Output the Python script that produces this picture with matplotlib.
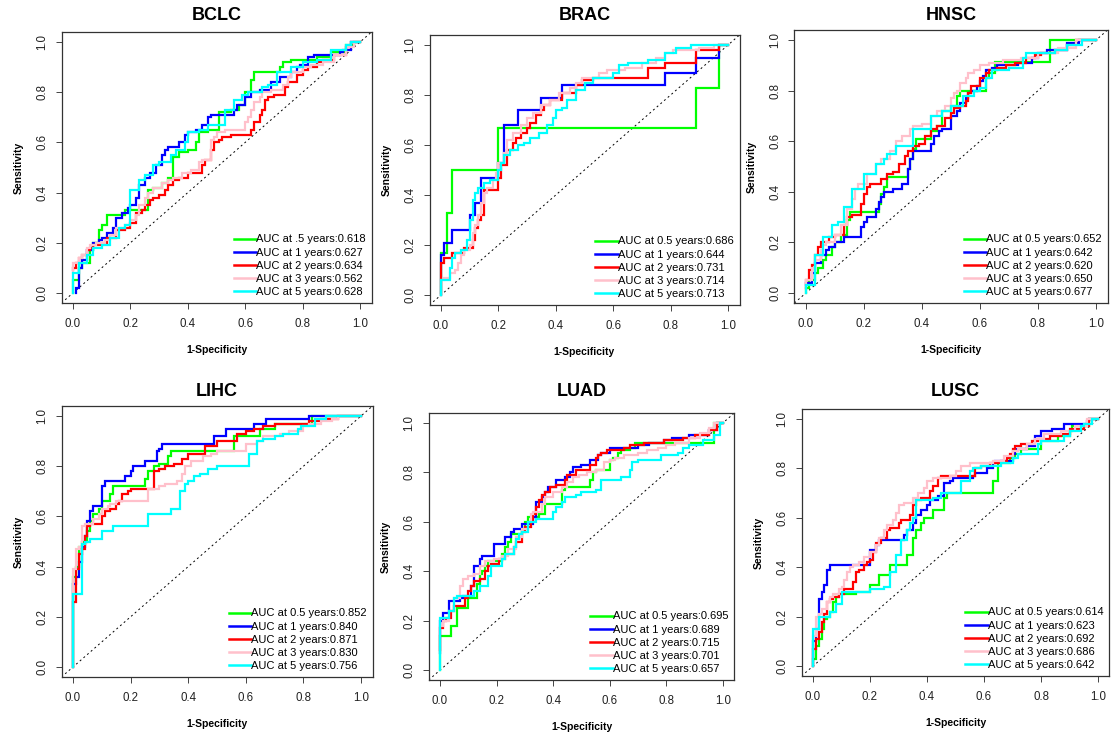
import matplotlib
matplotlib.use("Agg")
import matplotlib.pyplot as plt

plt.rcParams['font.family'] = ['Liberation Sans', 'DejaVu Sans']

# ---------------- data ----------------
panel_titles = ["BCLC", "BRAC", "HNSC", "LIHC", "LUAD", "LUSC"]
series_colors = ["#00FF00", "#0000FF", "#FF0000", "#FFC0CB", "#00FFFF"]
year_labels = [["AUC at .5 years", "AUC at 1 years", "AUC at 2 years", "AUC at 3 years", "AUC at 5 years"]] + \
              [["AUC at 0.5 years", "AUC at 1 years", "AUC at 2 years", "AUC at 3 years", "AUC at 5 years"]] * 5
auc_values = [
    [0.618, 0.627, 0.634, 0.562, 0.628],
    [0.686, 0.644, 0.731, 0.714, 0.713],
    [0.652, 0.642, 0.620, 0.650, 0.677],
    [0.852, 0.840, 0.871, 0.830, 0.756],
    [0.695, 0.689, 0.715, 0.701, 0.657],
    [0.614, 0.623, 0.692, 0.686, 0.642],
]
tick_values = [0.0, 0.2, 0.4, 0.6, 0.8, 1.0]
tick_labels = ["0.0", "0.2", "0.4", "0.6", "0.8", "1.0"]

# ROC curves: (FPR, TPR) corner points, per panel, per series (0.5, 1, 2, 3, 5 years)
bclc_fpr_05 = [0, 0.02, 0.03, 0.06, 0.07, 0.09, 0.10, 0.12, 0.14, 0.18, 0.20, 0.26, 0.26, 0.28, 0.31, 0.33, 0.35, 0.35, 0.37, 0.40, 0.43, 0.44, 0.47, 0.51, 0.51, 0.55, 0.58, 0.60, 0.62, 0.63, 0.64, 0.72, 0.73, 0.76, 0.85, 0.90, 0.95, 0.98, 1]
bclc_tpr_05 = [0, 0.05, 0.10, 0.12, 0.17, 0.20, 0.25, 0.27, 0.31, 0.31, 0.33, 0.33, 0.38, 0.41, 0.42, 0.44, 0.46, 0.51, 0.54, 0.56, 0.57, 0.60, 0.64, 0.65, 0.70, 0.72, 0.73, 0.75, 0.80, 0.85, 0.88, 0.88, 0.90, 0.92, 0.93, 0.94, 0.96, 0.99, 1]
bclc_fpr_1 = [0.01, 0.02, 0.03, 0.05, 0.07, 0.09, 0.10, 0.12, 0.14, 0.15, 0.17, 0.19, 0.20, 0.22, 0.23, 0.25, 0.27, 0.29, 0.31, 0.32, 0.33, 0.37, 0.39, 0.40, 0.43, 0.45, 0.47, 0.48, 0.50, 0.56, 0.57, 0.60, 0.62, 0.65, 0.69, 0.72, 0.76, 0.78, 0.79, 0.82, 0.84, 0.85, 0.93, 0.94, 0.97, 1]
bclc_tpr_1 = [0.0, 0.02, 0.10, 0.13, 0.17, 0.20, 0.21, 0.22, 0.24, 0.26, 0.30, 0.32, 0.34, 0.35, 0.38, 0.43, 0.46, 0.48, 0.51, 0.55, 0.57, 0.58, 0.60, 0.63, 0.64, 0.65, 0.67, 0.70, 0.71, 0.71, 0.73, 0.75, 0.78, 0.80, 0.81, 0.84, 0.86, 0.88, 0.90, 0.91, 0.94, 0.95, 0.95, 0.96, 0.97, 1]
bclc_fpr_2 = [0, 0.01, 0.02, 0.03, 0.05, 0.06, 0.07, 0.10, 0.12, 0.15, 0.18, 0.20, 0.22, 0.24, 0.25, 0.27, 0.28, 0.30, 0.32, 0.33, 0.35, 0.37, 0.40, 0.43, 0.45, 0.46, 0.48, 0.49, 0.51, 0.52, 0.55, 0.58, 0.62, 0.63, 0.65, 0.66, 0.67, 0.68, 0.70, 0.74, 0.75, 0.78, 0.80, 0.82, 0.85, 0.87, 0.91, 0.95, 0.97, 1]
bclc_tpr_2 = [0.09, 0.10, 0.12, 0.14, 0.15, 0.17, 0.18, 0.19, 0.20, 0.22, 0.25, 0.26, 0.28, 0.32, 0.33, 0.35, 0.37, 0.38, 0.39, 0.41, 0.43, 0.45, 0.46, 0.48, 0.48, 0.51, 0.53, 0.57, 0.60, 0.61, 0.62, 0.63, 0.63, 0.65, 0.68, 0.71, 0.73, 0.77, 0.78, 0.79, 0.82, 0.84, 0.87, 0.89, 0.90, 0.92, 0.93, 0.95, 0.98, 1]
bclc_fpr_3 = [0, 0.02, 0.03, 0.05, 0.06, 0.08, 0.11, 0.13, 0.15, 0.18, 0.20, 0.22, 0.23, 0.25, 0.26, 0.28, 0.31, 0.33, 0.35, 0.38, 0.41, 0.44, 0.45, 0.48, 0.48, 0.49, 0.50, 0.53, 0.56, 0.60, 0.61, 0.62, 0.63, 0.65, 0.66, 0.69, 0.73, 0.75, 0.76, 0.80, 0.83, 0.87, 0.91, 0.95, 0.98, 1]
bclc_tpr_3 = [0.08, 0.12, 0.14, 0.15, 0.18, 0.19, 0.20, 0.21, 0.23, 0.26, 0.27, 0.29, 0.31, 0.35, 0.38, 0.40, 0.42, 0.44, 0.45, 0.46, 0.48, 0.49, 0.52, 0.53, 0.57, 0.61, 0.62, 0.64, 0.65, 0.65, 0.68, 0.70, 0.73, 0.76, 0.78, 0.80, 0.81, 0.83, 0.86, 0.88, 0.90, 0.91, 0.92, 0.95, 0.98, 1]
bclc_fpr_5 = [0, 0, 0.02, 0.03, 0.05, 0.07, 0.09, 0.10, 0.13, 0.15, 0.16, 0.18, 0.20, 0.20, 0.23, 0.25, 0.28, 0.28, 0.30, 0.34, 0.36, 0.39, 0.40, 0.44, 0.47, 0.53, 0.53, 0.56, 0.56, 0.59, 0.61, 0.66, 0.68, 0.71, 0.71, 0.76, 0.80, 0.85, 0.90, 0.90, 0.95, 0.97, 1]
bclc_tpr_5 = [0, 0.07, 0.08, 0.12, 0.12, 0.15, 0.18, 0.18, 0.19, 0.22, 0.22, 0.26, 0.27, 0.40, 0.41, 0.45, 0.47, 0.50, 0.51, 0.52, 0.55, 0.57, 0.60, 0.64, 0.65, 0.67, 0.73, 0.73, 0.75, 0.77, 0.79, 0.80, 0.82, 0.83, 0.86, 0.88, 0.90, 0.92, 0.93, 0.96, 0.97, 0.99, 1]

brac_fpr_05 = [0, 0, 0.02, 0.02, 0.04, 0.04, 0.20, 0.20, 0.89, 0.89, 0.97, 0.97, 1]
brac_tpr_05 = [0, 0.17, 0.17, 0.33, 0.33, 0.50, 0.50, 0.67, 0.67, 0.83, 0.83, 1.0, 1]
brac_fpr_1 = [0, 0, 0.01, 0.02, 0.04, 0.04, 0.10, 0.10, 0.12, 0.12, 0.14, 0.14, 0.15, 0.20, 0.20, 0.22, 0.22, 0.23, 0.27, 0.27, 0.35, 0.35, 0.42, 0.42, 0.78, 0.78, 0.89, 0.89, 0.97, 0.97, 1]
brac_tpr_1 = [0, 0.05, 0.16, 0.21, 0.21, 0.26, 0.26, 0.32, 0.32, 0.37, 0.37, 0.42, 0.47, 0.47, 0.53, 0.53, 0.63, 0.68, 0.68, 0.74, 0.74, 0.79, 0.79, 0.84, 0.84, 0.89, 0.89, 0.95, 0.95, 1.0, 1]
brac_fpr_2 = [0, 0.01, 0.01, 0.04, 0.04, 0.08, 0.09, 0.11, 0.12, 0.13, 0.14, 0.15, 0.15, 0.17, 0.20, 0.21, 0.23, 0.23, 0.25, 0.26, 0.28, 0.30, 0.31, 0.33, 0.35, 0.36, 0.38, 0.39, 0.42, 0.43, 0.47, 0.49, 0.50, 0.53, 0.60, 0.72, 0.73, 0.78, 0.78, 0.89, 0.89, 0.97, 0.97, 1]
brac_tpr_2 = [0.01, 0.13, 0.15, 0.15, 0.17, 0.17, 0.19, 0.19, 0.22, 0.27, 0.30, 0.32, 0.40, 0.42, 0.42, 0.47, 0.52, 0.55, 0.58, 0.61, 0.63, 0.65, 0.67, 0.69, 0.72, 0.74, 0.76, 0.78, 0.78, 0.81, 0.81, 0.84, 0.86, 0.86, 0.87, 0.87, 0.91, 0.91, 0.93, 0.93, 0.98, 0.98, 1.0, 1]
brac_fpr_3 = [0, 0.01, 0.03, 0.05, 0.06, 0.07, 0.08, 0.10, 0.11, 0.12, 0.13, 0.14, 0.15, 0.16, 0.18, 0.19, 0.20, 0.22, 0.23, 0.25, 0.28, 0.30, 0.32, 0.35, 0.38, 0.41, 0.45, 0.47, 0.49, 0.55, 0.58, 0.64, 0.70, 0.75, 0.78, 0.81, 0.90, 0.95, 1]
brac_tpr_3 = [0.04, 0.06, 0.07, 0.09, 0.10, 0.13, 0.16, 0.18, 0.20, 0.25, 0.28, 0.32, 0.37, 0.41, 0.43, 0.46, 0.49, 0.53, 0.57, 0.62, 0.65, 0.68, 0.71, 0.73, 0.76, 0.78, 0.81, 0.83, 0.85, 0.87, 0.89, 0.90, 0.91, 0.93, 0.95, 0.97, 0.98, 0.99, 1]
brac_fpr_5 = [0, 0.01, 0.03, 0.04, 0.05, 0.07, 0.09, 0.10, 0.11, 0.12, 0.13, 0.15, 0.17, 0.20, 0.21, 0.22, 0.24, 0.27, 0.29, 0.31, 0.34, 0.37, 0.39, 0.40, 0.42, 0.44, 0.47, 0.50, 0.53, 0.55, 0.60, 0.62, 0.65, 0.72, 0.78, 0.82, 0.87, 0.90, 1]
brac_tpr_5 = [0, 0.06, 0.06, 0.11, 0.15, 0.17, 0.18, 0.22, 0.30, 0.38, 0.41, 0.43, 0.45, 0.46, 0.50, 0.53, 0.56, 0.58, 0.60, 0.61, 0.63, 0.65, 0.68, 0.71, 0.74, 0.75, 0.78, 0.82, 0.85, 0.87, 0.87, 0.89, 0.92, 0.93, 0.94, 0.97, 0.99, 1.0, 1]

hnsc_fpr_05 = [0, 0.01, 0.03, 0.04, 0.06, 0.07, 0.09, 0.10, 0.12, 0.14, 0.15, 0.16, 0.25, 0.26, 0.27, 0.28, 0.28, 0.35, 0.36, 0.37, 0.38, 0.38, 0.43, 0.45, 0.47, 0.47, 0.50, 0.52, 0.53, 0.54, 0.62, 0.62, 0.63, 0.65, 0.66, 0.82, 0.84, 0.84, 1]
hnsc_tpr_05 = [0, 0.02, 0.05, 0.08, 0.10, 0.13, 0.15, 0.18, 0.20, 0.23, 0.29, 0.32, 0.32, 0.35, 0.39, 0.42, 0.46, 0.46, 0.49, 0.53, 0.57, 0.60, 0.61, 0.64, 0.66, 0.70, 0.72, 0.74, 0.78, 0.80, 0.80, 0.83, 0.85, 0.87, 0.915, 0.915, 0.915, 1.0, 1]
hnsc_fpr_1 = [0, 0.02, 0.03, 0.05, 0.07, 0.08, 0.10, 0.13, 0.14, 0.19, 0.20, 0.21, 0.24, 0.25, 0.26, 0.27, 0.28, 0.30, 0.33, 0.35, 0.36, 0.37, 0.38, 0.43, 0.44, 0.46, 0.47, 0.50, 0.50, 0.52, 0.53, 0.55, 0.56, 0.57, 0.59, 0.60, 0.61, 0.62, 0.64, 0.66, 0.68, 0.73, 0.78, 0.80, 0.83, 0.90, 0.94, 1]
hnsc_tpr_1 = [0.03, 0.04, 0.08, 0.12, 0.15, 0.17, 0.18, 0.20, 0.22, 0.22, 0.26, 0.28, 0.30, 0.33, 0.36, 0.38, 0.40, 0.40, 0.41, 0.43, 0.49, 0.53, 0.56, 0.56, 0.59, 0.62, 0.64, 0.65, 0.68, 0.70, 0.72, 0.75, 0.77, 0.79, 0.80, 0.82, 0.84, 0.86, 0.88, 0.89, 0.90, 0.90, 0.91, 0.93, 0.95, 0.96, 0.99, 1]
hnsc_fpr_2 = [0, 0.01, 0.02, 0.03, 0.04, 0.05, 0.06, 0.08, 0.10, 0.13, 0.14, 0.16, 0.19, 0.20, 0.21, 0.22, 0.26, 0.28, 0.30, 0.32, 0.34, 0.35, 0.37, 0.39, 0.41, 0.43, 0.45, 0.48, 0.50, 0.51, 0.53, 0.55, 0.56, 0.57, 0.60, 0.62, 0.63, 0.66, 0.69, 0.72, 0.76, 0.79, 0.81, 0.86, 0.90, 0.93, 1]
hnsc_tpr_2 = [0.02, 0.05, 0.09, 0.11, 0.15, 0.18, 0.20, 0.20, 0.22, 0.23, 0.27, 0.30, 0.31, 0.35, 0.39, 0.42, 0.43, 0.45, 0.47, 0.48, 0.51, 0.54, 0.56, 0.58, 0.59, 0.62, 0.65, 0.66, 0.69, 0.71, 0.73, 0.74, 0.76, 0.79, 0.82, 0.85, 0.87, 0.88, 0.89, 0.90, 0.91, 0.93, 0.94, 0.95, 0.96, 0.98, 1]
hnsc_fpr_3 = [0, 0.02, 0.03, 0.05, 0.06, 0.07, 0.10, 0.12, 0.14, 0.16, 0.17, 0.18, 0.21, 0.24, 0.26, 0.29, 0.31, 0.33, 0.36, 0.37, 0.40, 0.43, 0.45, 0.48, 0.50, 0.51, 0.52, 0.53, 0.55, 0.56, 0.58, 0.60, 0.63, 0.68, 0.74, 0.80, 0.87, 0.93, 1]
hnsc_tpr_3 = [0.02, 0.05, 0.10, 0.13, 0.17, 0.19, 0.20, 0.23, 0.27, 0.33, 0.37, 0.41, 0.43, 0.47, 0.51, 0.53, 0.56, 0.60, 0.62, 0.65, 0.66, 0.67, 0.70, 0.72, 0.74, 0.77, 0.79, 0.80, 0.83, 0.85, 0.87, 0.88, 0.90, 0.91, 0.92, 0.93, 0.95, 0.97, 1]
hnsc_fpr_5 = [0, 0.03, 0.03, 0.06, 0.07, 0.09, 0.09, 0.11, 0.13, 0.14, 0.16, 0.16, 0.20, 0.20, 0.24, 0.24, 0.27, 0.28, 0.31, 0.31, 0.37, 0.37, 0.43, 0.43, 0.47, 0.50, 0.54, 0.55, 0.58, 0.60, 0.62, 0.63, 0.64, 0.64, 0.70, 0.75, 0.76, 0.80, 0.86, 0.90, 0.95, 1]
hnsc_tpr_5 = [0, 0.03, 0.15, 0.15, 0.22, 0.22, 0.26, 0.27, 0.28, 0.34, 0.34, 0.40, 0.41, 0.47, 0.47, 0.50, 0.51, 0.53, 0.55, 0.58, 0.58, 0.64, 0.65, 0.69, 0.70, 0.72, 0.74, 0.78, 0.78, 0.80, 0.81, 0.85, 0.85, 0.87, 0.88, 0.89, 0.93, 0.95, 0.95, 0.96, 0.98, 1]

lihc_fpr_05 = [0, 0, 0.01, 0.02, 0.02, 0.03, 0.05, 0.06, 0.07, 0.07, 0.09, 0.10, 0.11, 0.13, 0.14, 0.15, 0.25, 0.26, 0.28, 0.30, 0.33, 0.34, 0.34, 0.56, 0.56, 0.65, 0.65, 0.70, 0.70, 0.83, 0.83, 0.87, 1]
lihc_tpr_05 = [0, 0.30, 0.36, 0.40, 0.46, 0.48, 0.50, 0.54, 0.58, 0.60, 0.61, 0.63, 0.66, 0.66, 0.69, 0.72, 0.72, 0.75, 0.78, 0.80, 0.81, 0.84, 0.86, 0.86, 0.92, 0.92, 0.95, 0.95, 0.97, 0.97, 0.99, 1.0, 1]
lihc_fpr_1 = [0, 0.01, 0.02, 0.03, 0.04, 0.05, 0.06, 0.07, 0.07, 0.10, 0.10, 0.11, 0.11, 0.18, 0.18, 0.20, 0.21, 0.22, 0.25, 0.25, 0.29, 0.30, 0.31, 0.32, 0.49, 0.50, 0.53, 0.53, 0.63, 0.63, 0.67, 0.68, 0.82, 0.82, 0.88, 1]
lihc_tpr_1 = [0, 0.33, 0.36, 0.42, 0.48, 0.52, 0.58, 0.62, 0.64, 0.64, 0.68, 0.72, 0.74, 0.74, 0.75, 0.76, 0.78, 0.80, 0.80, 0.82, 0.82, 0.86, 0.87, 0.89, 0.89, 0.92, 0.92, 0.95, 0.95, 0.97, 0.97, 0.99, 0.99, 1.0, 1.0, 1]
lihc_fpr_2 = [0, 0.01, 0.01, 0.02, 0.03, 0.04, 0.05, 0.06, 0.07, 0.10, 0.11, 0.13, 0.15, 0.16, 0.17, 0.17, 0.19, 0.20, 0.21, 0.28, 0.28, 0.30, 0.32, 0.35, 0.38, 0.40, 0.43, 0.46, 0.46, 0.50, 0.50, 0.57, 0.57, 0.60, 0.63, 0.66, 0.70, 0.75, 0.82, 0.86, 0.92, 1]
lihc_tpr_2 = [0, 0.26, 0.38, 0.39, 0.45, 0.47, 0.52, 0.56, 0.57, 0.57, 0.60, 0.62, 0.63, 0.65, 0.66, 0.68, 0.69, 0.70, 0.71, 0.71, 0.76, 0.78, 0.79, 0.80, 0.81, 0.83, 0.85, 0.85, 0.88, 0.88, 0.90, 0.90, 0.92, 0.93, 0.94, 0.95, 0.96, 0.97, 0.97, 0.98, 0.99, 1]
lihc_fpr_3 = [0, 0, 0.01, 0.02, 0.03, 0.03, 0.04, 0.07, 0.09, 0.10, 0.12, 0.13, 0.15, 0.18, 0.26, 0.26, 0.30, 0.32, 0.36, 0.38, 0.39, 0.41, 0.45, 0.48, 0.50, 0.55, 0.60, 0.60, 0.64, 0.66, 0.72, 0.75, 0.80, 0.82, 0.86, 0.90, 0.92, 1]
lihc_tpr_3 = [0.30, 0.39, 0.39, 0.47, 0.48, 0.53, 0.56, 0.57, 0.59, 0.61, 0.63, 0.64, 0.65, 0.66, 0.66, 0.70, 0.71, 0.72, 0.73, 0.74, 0.77, 0.80, 0.82, 0.84, 0.85, 0.86, 0.86, 0.88, 0.89, 0.90, 0.92, 0.93, 0.94, 0.96, 0.97, 0.98, 0.99, 1]
lihc_fpr_5 = [0, 0, 0.03, 0.03, 0.04, 0.06, 0.10, 0.11, 0.14, 0.14, 0.26, 0.26, 0.34, 0.34, 0.37, 0.37, 0.39, 0.40, 0.42, 0.44, 0.47, 0.50, 0.52, 0.61, 0.61, 0.64, 0.64, 0.66, 0.70, 0.73, 0.78, 0.79, 0.84, 0.84, 0.88, 0.88, 1]
lihc_tpr_5 = [0, 0.29, 0.29, 0.48, 0.49, 0.50, 0.51, 0.54, 0.54, 0.56, 0.56, 0.61, 0.61, 0.63, 0.63, 0.70, 0.70, 0.73, 0.74, 0.76, 0.77, 0.79, 0.80, 0.80, 0.85, 0.85, 0.89, 0.90, 0.91, 0.92, 0.93, 0.95, 0.96, 0.98, 0.99, 1.0, 1]

luad_fpr_05 = [0, 0, 0.02, 0.04, 0.04, 0.06, 0.06, 0.07, 0.10, 0.10, 0.11, 0.13, 0.13, 0.14, 0.15, 0.16, 0.17, 0.18, 0.22, 0.23, 0.24, 0.25, 0.25, 0.29, 0.30, 0.31, 0.32, 0.35, 0.37, 0.39, 0.43, 0.43, 0.44, 0.53, 0.54, 0.55, 0.57, 0.60, 0.60, 0.61, 0.63, 0.64, 0.67, 0.69, 0.70, 0.82, 0.97, 0.97, 1]
luad_tpr_05 = [0, 0.12, 0.14, 0.14, 0.18, 0.18, 0.22, 0.25, 0.25, 0.27, 0.29, 0.29, 0.32, 0.35, 0.39, 0.40, 0.42, 0.44, 0.44, 0.47, 0.50, 0.52, 0.55, 0.55, 0.57, 0.60, 0.62, 0.62, 0.63, 0.67, 0.67, 0.70, 0.73, 0.74, 0.77, 0.80, 0.81, 0.81, 0.83, 0.85, 0.86, 0.88, 0.89, 0.90, 0.92, 0.92, 0.92, 0.97, 1]
luad_fpr_1 = [0, 0.01, 0.02, 0.03, 0.04, 0.07, 0.08, 0.11, 0.12, 0.12, 0.14, 0.15, 0.19, 0.19, 0.20, 0.23, 0.23, 0.25, 0.26, 0.29, 0.31, 0.33, 0.34, 0.36, 0.37, 0.38, 0.41, 0.44, 0.46, 0.47, 0.50, 0.53, 0.56, 0.57, 0.60, 0.60, 0.70, 0.74, 0.79, 0.82, 0.88, 0.91, 0.95, 0.98, 1]
luad_tpr_1 = [0.07, 0.20, 0.23, 0.23, 0.28, 0.28, 0.29, 0.30, 0.34, 0.39, 0.42, 0.45, 0.46, 0.49, 0.51, 0.51, 0.53, 0.54, 0.56, 0.57, 0.59, 0.59, 0.62, 0.68, 0.70, 0.72, 0.74, 0.77, 0.78, 0.80, 0.82, 0.83, 0.85, 0.87, 0.88, 0.89, 0.90, 0.91, 0.92, 0.93, 0.94, 0.95, 0.95, 0.97, 1]
luad_fpr_2 = [0, 0.01, 0.02, 0.04, 0.05, 0.06, 0.09, 0.10, 0.11, 0.12, 0.14, 0.16, 0.17, 0.18, 0.21, 0.23, 0.26, 0.27, 0.29, 0.30, 0.32, 0.33, 0.34, 0.35, 0.36, 0.37, 0.39, 0.41, 0.44, 0.45, 0.48, 0.50, 0.53, 0.55, 0.56, 0.57, 0.59, 0.62, 0.65, 0.67, 0.72, 0.79, 0.86, 0.90, 0.95, 0.98, 1]
luad_tpr_2 = [0.08, 0.17, 0.20, 0.21, 0.24, 0.26, 0.26, 0.29, 0.32, 0.34, 0.36, 0.37, 0.40, 0.42, 0.43, 0.45, 0.47, 0.50, 0.52, 0.56, 0.58, 0.60, 0.63, 0.66, 0.69, 0.71, 0.72, 0.74, 0.75, 0.77, 0.79, 0.81, 0.81, 0.83, 0.86, 0.87, 0.88, 0.89, 0.89, 0.90, 0.91, 0.92, 0.93, 0.94, 0.95, 0.97, 1]
luad_fpr_3 = [0, 0.01, 0.03, 0.05, 0.07, 0.08, 0.10, 0.12, 0.14, 0.16, 0.19, 0.22, 0.24, 0.27, 0.29, 0.31, 0.32, 0.33, 0.36, 0.37, 0.40, 0.43, 0.45, 0.47, 0.49, 0.52, 0.55, 0.58, 0.60, 0.62, 0.65, 0.70, 0.73, 0.77, 0.80, 0.83, 0.88, 0.92, 0.95, 0.97, 1]
luad_tpr_3 = [0.10, 0.18, 0.20, 0.24, 0.29, 0.34, 0.37, 0.38, 0.39, 0.42, 0.44, 0.45, 0.46, 0.49, 0.54, 0.57, 0.60, 0.63, 0.64, 0.67, 0.70, 0.72, 0.74, 0.76, 0.78, 0.79, 0.80, 0.81, 0.84, 0.85, 0.86, 0.87, 0.88, 0.89, 0.90, 0.91, 0.92, 0.94, 0.96, 0.98, 1]
luad_fpr_5 = [0, 0, 0.03, 0.03, 0.05, 0.06, 0.10, 0.12, 0.12, 0.14, 0.15, 0.17, 0.18, 0.18, 0.22, 0.23, 0.26, 0.27, 0.28, 0.29, 0.31, 0.34, 0.36, 0.40, 0.41, 0.43, 0.44, 0.45, 0.48, 0.50, 0.55, 0.57, 0.57, 0.64, 0.67, 0.68, 0.70, 0.78, 0.78, 0.84, 0.86, 0.88, 0.93, 0.97, 0.99, 1]
luad_tpr_5 = [0, 0.20, 0.21, 0.24, 0.24, 0.29, 0.30, 0.30, 0.32, 0.32, 0.34, 0.34, 0.38, 0.42, 0.42, 0.45, 0.47, 0.50, 0.53, 0.55, 0.56, 0.60, 0.61, 0.61, 0.64, 0.66, 0.68, 0.70, 0.70, 0.71, 0.72, 0.73, 0.77, 0.77, 0.78, 0.81, 0.84, 0.85, 0.86, 0.87, 0.88, 0.90, 0.91, 0.93, 0.95, 1]

lusc_fpr_05 = [0, 0.01, 0.02, 0.03, 0.04, 0.05, 0.06, 0.07, 0.08, 0.09, 0.10, 0.15, 0.17, 0.20, 0.20, 0.23, 0.23, 0.27, 0.27, 0.29, 0.33, 0.33, 0.35, 0.35, 0.36, 0.38, 0.39, 0.42, 0.42, 0.46, 0.47, 0.48, 0.63, 0.63, 0.65, 0.65, 0.69, 0.71, 0.71, 0.73, 0.74, 0.80, 0.80, 0.86, 0.87, 0.90, 0.91, 0.97, 1]
lusc_tpr_05 = [0, 0.03, 0.08, 0.11, 0.15, 0.19, 0.20, 0.22, 0.26, 0.28, 0.29, 0.29, 0.30, 0.30, 0.33, 0.33, 0.37, 0.37, 0.40, 0.41, 0.41, 0.45, 0.45, 0.50, 0.52, 0.55, 0.58, 0.60, 0.63, 0.63, 0.68, 0.70, 0.70, 0.74, 0.75, 0.81, 0.82, 0.84, 0.86, 0.86, 0.88, 0.88, 0.91, 0.91, 0.93, 0.93, 0.95, 0.97, 1]
lusc_fpr_1 = [0, 0.01, 0.02, 0.02, 0.03, 0.04, 0.05, 0.05, 0.06, 0.06, 0.20, 0.20, 0.22, 0.23, 0.25, 0.32, 0.33, 0.35, 0.36, 0.38, 0.40, 0.41, 0.44, 0.46, 0.46, 0.48, 0.49, 0.56, 0.57, 0.61, 0.63, 0.64, 0.70, 0.71, 0.75, 0.78, 0.80, 0.84, 0.88, 0.88, 0.96, 0.97, 1]
lusc_tpr_1 = [0, 0.10, 0.15, 0.25, 0.27, 0.30, 0.33, 0.37, 0.39, 0.41, 0.41, 0.45, 0.47, 0.49, 0.51, 0.51, 0.53, 0.55, 0.58, 0.61, 0.63, 0.65, 0.67, 0.69, 0.71, 0.74, 0.75, 0.76, 0.77, 0.78, 0.80, 0.82, 0.83, 0.86, 0.88, 0.89, 0.93, 0.95, 0.96, 0.98, 0.98, 0.99, 1]
lusc_fpr_2 = [0, 0.01, 0.02, 0.02, 0.03, 0.04, 0.05, 0.05, 0.06, 0.07, 0.09, 0.11, 0.12, 0.14, 0.15, 0.16, 0.18, 0.19, 0.20, 0.21, 0.22, 0.24, 0.26, 0.27, 0.30, 0.31, 0.34, 0.35, 0.36, 0.38, 0.41, 0.42, 0.44, 0.45, 0.46, 0.57, 0.59, 0.62, 0.66, 0.68, 0.69, 0.70, 0.71, 0.73, 0.77, 0.79, 0.83, 0.87, 0.90, 0.95, 0.97, 1]
lusc_tpr_2 = [0, 0.07, 0.11, 0.14, 0.14, 0.18, 0.21, 0.24, 0.26, 0.27, 0.28, 0.29, 0.31, 0.31, 0.34, 0.38, 0.39, 0.41, 0.42, 0.43, 0.46, 0.50, 0.52, 0.55, 0.56, 0.58, 0.59, 0.61, 0.65, 0.67, 0.68, 0.71, 0.73, 0.76, 0.77, 0.77, 0.80, 0.81, 0.82, 0.83, 0.84, 0.86, 0.88, 0.89, 0.90, 0.91, 0.92, 0.93, 0.94, 0.96, 0.97, 1]
lusc_fpr_3 = [0, 0.01, 0.02, 0.03, 0.05, 0.06, 0.07, 0.09, 0.10, 0.11, 0.12, 0.13, 0.14, 0.16, 0.18, 0.20, 0.22, 0.23, 0.25, 0.26, 0.28, 0.29, 0.30, 0.32, 0.35, 0.37, 0.39, 0.40, 0.42, 0.44, 0.48, 0.50, 0.52, 0.55, 0.58, 0.63, 0.67, 0.70, 0.72, 0.75, 0.78, 0.81, 0.87, 0.92, 0.96, 1]
lusc_tpr_3 = [0.04, 0.12, 0.20, 0.21, 0.23, 0.26, 0.28, 0.29, 0.31, 0.32, 0.35, 0.38, 0.40, 0.41, 0.42, 0.44, 0.46, 0.49, 0.52, 0.55, 0.57, 0.59, 0.62, 0.65, 0.66, 0.68, 0.70, 0.72, 0.75, 0.76, 0.76, 0.77, 0.79, 0.81, 0.82, 0.82, 0.83, 0.85, 0.87, 0.88, 0.90, 0.92, 0.94, 0.95, 0.97, 1]
lusc_fpr_5 = [0, 0, 0.02, 0.03, 0.06, 0.06, 0.08, 0.08, 0.10, 0.10, 0.20, 0.20, 0.25, 0.25, 0.27, 0.27, 0.29, 0.29, 0.31, 0.31, 0.33, 0.34, 0.35, 0.36, 0.36, 0.42, 0.45, 0.45, 0.52, 0.52, 0.55, 0.56, 0.59, 0.62, 0.66, 0.70, 0.72, 0.73, 0.79, 0.80, 0.88, 0.90, 0.94, 0.95, 0.98, 1]
lusc_tpr_5 = [0, 0.15, 0.15, 0.20, 0.20, 0.22, 0.22, 0.25, 0.25, 0.30, 0.30, 0.31, 0.31, 0.32, 0.32, 0.35, 0.38, 0.45, 0.45, 0.51, 0.51, 0.55, 0.58, 0.60, 0.67, 0.67, 0.68, 0.70, 0.70, 0.74, 0.75, 0.79, 0.80, 0.81, 0.81, 0.82, 0.84, 0.86, 0.86, 0.90, 0.91, 0.93, 0.95, 0.97, 0.98, 1]

roc_fpr = [
    [bclc_fpr_05, bclc_fpr_1, bclc_fpr_2, bclc_fpr_3, bclc_fpr_5],
    [brac_fpr_05, brac_fpr_1, brac_fpr_2, brac_fpr_3, brac_fpr_5],
    [hnsc_fpr_05, hnsc_fpr_1, hnsc_fpr_2, hnsc_fpr_3, hnsc_fpr_5],
    [lihc_fpr_05, lihc_fpr_1, lihc_fpr_2, lihc_fpr_3, lihc_fpr_5],
    [luad_fpr_05, luad_fpr_1, luad_fpr_2, luad_fpr_3, luad_fpr_5],
    [lusc_fpr_05, lusc_fpr_1, lusc_fpr_2, lusc_fpr_3, lusc_fpr_5],
]
roc_tpr = [
    [bclc_tpr_05, bclc_tpr_1, bclc_tpr_2, bclc_tpr_3, bclc_tpr_5],
    [brac_tpr_05, brac_tpr_1, brac_tpr_2, brac_tpr_3, brac_tpr_5],
    [hnsc_tpr_05, hnsc_tpr_1, hnsc_tpr_2, hnsc_tpr_3, hnsc_tpr_5],
    [lihc_tpr_05, lihc_tpr_1, lihc_tpr_2, lihc_tpr_3, lihc_tpr_5],
    [luad_tpr_05, luad_tpr_1, luad_tpr_2, luad_tpr_3, luad_tpr_5],
    [lusc_tpr_05, lusc_tpr_1, lusc_tpr_2, lusc_tpr_3, lusc_tpr_5],
]

# ---------------- layout (pixel boxes: left, top, right, bottom; title centre y) ----------------
W, H = 1113, 738
boxes = [
    (61.5, 32, 371.5, 303),
    (429.5, 35, 739.5, 305),
    (794.4, 30, 1107.6, 303),
    (61.5, 406, 372.5, 677),
    (428.7, 413, 734.3, 680),
    (801.6, 409, 1109.4, 676),
]
title_y = [15, 15, 15, 392, 392, 391]

fig = plt.figure(figsize=(W / 100, H / 100), dpi=100)
fig.patch.set_facecolor("white")

for p, title in enumerate(panel_titles):
    l, t, r, b = boxes[p]
    ax = fig.add_axes([l / W, 1 - b / H, (r - l) / W, (b - t) / H])
    ax.set_xlim(-0.04, 1.04)
    ax.set_ylim(-0.04, 1.04)
    for s in range(5):
        lab = "%s:%.3f" % (year_labels[p][s], auc_values[p][s])
        ax.plot(roc_fpr[p][s], roc_tpr[p][s], color=series_colors[s], lw=1.6,
                drawstyle="steps-pre", label=lab, solid_joinstyle="miter")
    ax.axline((0, 0), (1, 1), color="black", lw=0.7, ls=(0, (2, 3)), zorder=1)

    ax.set_xticks(tick_values)
    ax.set_xticklabels(tick_labels)
    ax.set_yticks(tick_values)
    ax.set_yticklabels(tick_labels, rotation=90, va="center")
    ax.tick_params(axis="both", direction="out", length=4.5, width=0.7,
                   color="#444444", labelsize=8.3, labelcolor="#222222")
    ax.tick_params(axis="x", pad=6.5)
    ax.tick_params(axis="y", pad=5)
    for sp in ax.spines.values():
        sp.set_linewidth(0.9)
        sp.set_color("#333333")

    ax.set_xlabel("1-Specificity", fontsize=7.5, fontweight="bold", labelpad=10.5)
    ax.set_ylabel("Sensitivity", fontsize=7.5, fontweight="bold", labelpad=9)
    fig.text((l + r) / 2 / W, 1 - title_y[p] / H, title, fontsize=13,
             fontweight="bold", ha="center", va="center")

    leg = ax.legend(loc="lower right", bbox_to_anchor=(1.0, 0.0), frameon=False,
                    fontsize=8, handlelength=2.0, handletextpad=0.0,
                    labelspacing=0.28, borderpad=0.55, borderaxespad=0.0)
    for lh in leg.get_lines():
        lh.set_linewidth(1.8)

fig.savefig("out.png", dpi=100, facecolor="white")
